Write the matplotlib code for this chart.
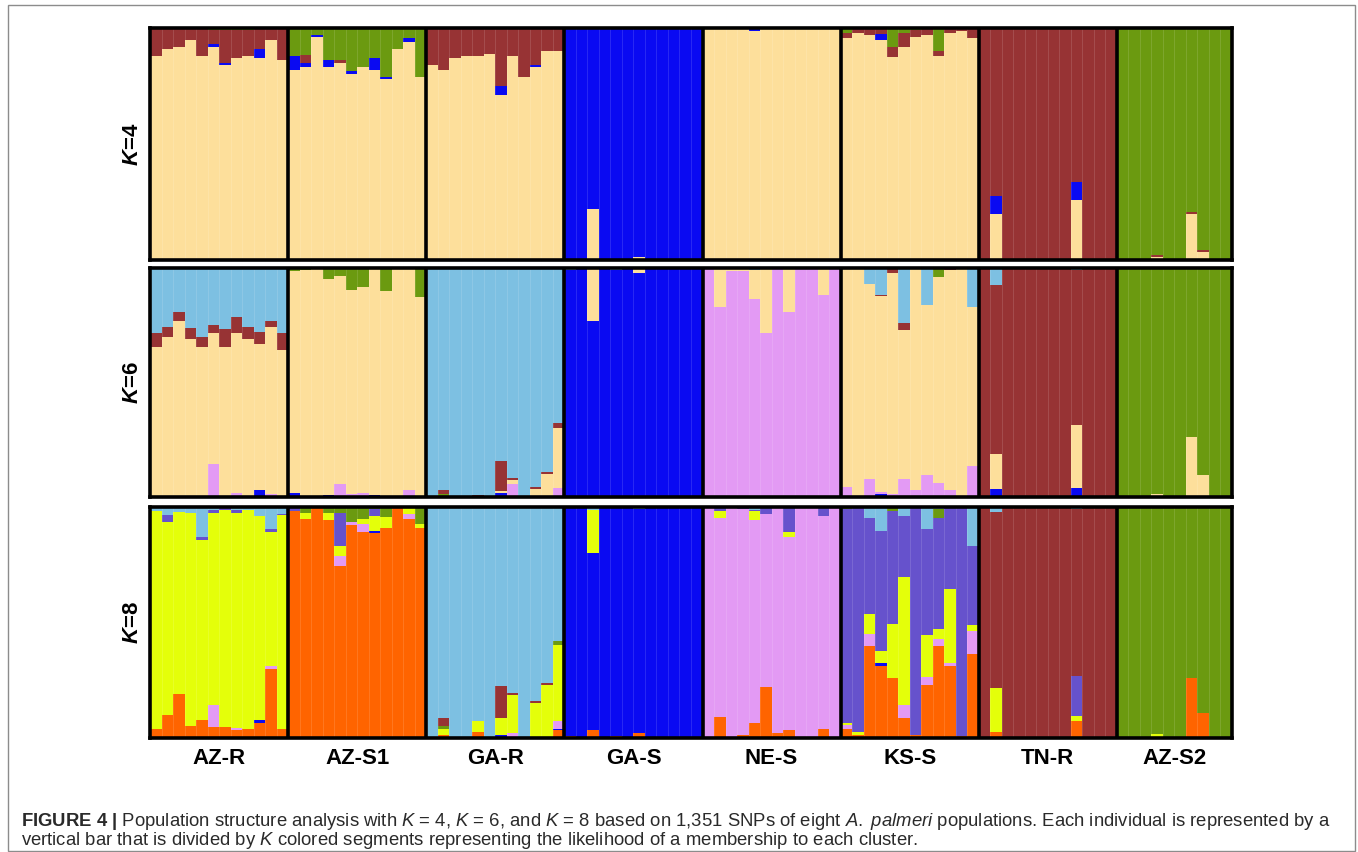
import matplotlib
matplotlib.use("Agg")
import matplotlib.pyplot as plt
import matplotlib.transforms as mtransforms
from matplotlib.patches import Rectangle
import numpy as np

plt.rcParams['font.family'] = ['Liberation Sans', 'DejaVu Sans']
plt.rcParams['mathtext.fontset'] = 'custom'
plt.rcParams['mathtext.rm'] = 'Liberation Sans'
plt.rcParams['mathtext.it'] = 'Liberation Sans:italic'
plt.rcParams['mathtext.bf'] = 'Liberation Sans:bold'
plt.rcParams['mathtext.sf'] = 'Liberation Sans:italic:bold'

# ---------------- data ----------------
populations = ["AZ-R", "AZ-S1", "GA-R", "GA-S", "NE-S", "KS-S", "TN-R", "AZ-S2"]
pop_sizes = [12, 12, 12, 12, 12, 12, 12, 10]
row_labels = ["4", "6", "8"]

cluster_colors = {
    "tan": "#FDDF9B", "brown": "#973334", "blue": "#0A0AF2", "green": "#6B9A10",
    "lblue": "#7DC0E2", "pink": "#E39AF4", "yellow": "#E4FF0A",
    "orange": "#FF6400", "purple": "#6652CC",
}

# ---- K = 4 (stack order bottom->top: tan, blue, brown, green)
k4_tan = [
    .88, .91, .92, .95, .88, .92, .84, .87, .88, .87, .95, .86,
    .82, .83, .96, .83, .85, .80, .83, .82, .78, .91, .94, .79,
    .84, .82, .87, .88, .88, .89, .71, .88, .79, .83, .90, .90,
    0, 0, .22, 0, .005, 0, .015, 0, 0, 0, 0, 0,
    1, 1, 1, 1, .985, 1, 1, 1, 1, 1, 1, 1,
    .955, .98, .97, .95, .877, .92, .96, .97, .88, .98, .985, .955,
    0, .20, 0, 0, 0, 0, 0, 0, .26, 0, .005, 0,
    0, 0, 0, .015, 0, 0, .20, .036, 0, 0]
k4_blue = [
    0, 0, 0, 0, 0, .01, .01, 0, 0, .04, 0, 0,
    .06, .02, .01, .03, 0, .015, 0, .05, .01, 0, .015, 0,
    0, 0, 0, 0, 0, 0, .04, 0, 0, .01, 0, 0,
    .995, 1, .78, 1, .99, 1, .985, 1, 1, 1, 1, 1,
    0, 0, 0, 0, .015, 0, 0, 0, 0, 0, 0, 0,
    0, 0, 0, .025, 0, 0, 0, 0, 0, 0, 0, 0,
    0, .076, 0, 0, 0, 0, 0, 0, .076, 0, 0, 0,
    0, 0, 0, 0, 0, 0, 0, 0, 0, 0]
k4_brown = [
    .12, .09, .08, .05, .12, .06, .14, .12, .11, .09, .05, .14,
    0, .035, 0, 0, .01, 0, 0, 0, 0, 0, 0, 0,
    .16, .18, .13, .12, .12, .11, .25, .12, .21, .16, .10, .10,
    .005, 0, 0, 0, .005, 0, 0, 0, 0, 0, 0, 0,
    0, 0, 0, 0, 0, 0, 0, 0, 0, 0, 0, 0,
    .025, .02, .03, .025, .043, .06, .03, .03, .02, .02, .015, .04,
    1, .724, 1, 1, 1, 1, 1, 1, .664, 1, .995, 1,
    0, 0, 0, .007, 0, 0, .005, .005, 0, 0]
k4_green = [
    0, 0, 0, 0, 0, .01, .01, .01, .01, 0, 0, 0,
    .12, .115, .03, .14, .14, .185, .17, .13, .21, .09, .045, .21,
    0, 0, 0, 0, 0, 0, 0, 0, 0, 0, 0, 0,
    0, 0, 0, 0, 0, 0, 0, 0, 0, 0, 0, 0,
    0, 0, 0, 0, 0, 0, 0, 0, 0, 0, 0, 0,
    .02, 0, 0, 0, .08, .02, .01, 0, .10, 0, 0, .005,
    0, 0, 0, 0, 0, 0, 0, 0, 0, 0, 0, 0,
    1, 1, 1, .978, 1, 1, .795, .959, 1, 1]

# ---- K = 6 (bottom->top: blue, pink, tan, green, brown, lblue)
k6_blue = [
    0, 0, 0, 0, 0, 0, 0, 0, 0, .03, 0, 0,
    .017, 0, 0, .007, 0, 0, 0, .008, 0, 0, 0, 0,
    0, 0, 0, 0, 0, 0, .019, 0, 0, 0, 0, 0,
    .992, 1, .767, 1, .99, 1, .98, 1, 1, 1, 1, 1,
    0, 0, 0, 0, .005, 0, 0, 0, 0, 0, 0, 0,
    0, 0, 0, .012, 0, 0, 0, 0, 0, 0, 0, 0,
    0, .034, 0, 0, 0, 0, 0, 0, .041, 0, 0, 0,
    0, 0, 0, 0, 0, 0, 0, 0, 0, 0]
k6_pink = [
    0, 0, 0, .005, 0, .146, 0, .017, 0, 0, .012, 0,
    0, 0, 0, 0, .055, .012, .017, 0, 0, 0, .03, 0,
    0, 0, 0, 0, 0, 0, 0, .055, 0, 0, 0, .04,
    0, 0, 0, 0, 0, 0, 0, 0, 0, 0, 0, 0,
    1, .83, .985, .985, .861, .717, 1, .81, 1, 1, .883, 1,
    .044, 0, .08, .01, .015, .08, .03, .095, .063, .03, 0, .135,
    0, 0, 0, 0, 0, 0, 0, 0, 0, 0, 0, 0,
    0, 0, 0, 0, 0, 0, 0, 0, 0, 0]
k6_tan = [
    .656, .70, .767, .685, .653, .568, .656, .697, .692, .64, .731, .641,
    .968, .99, 1, .945, .911, .892, .898, .992, .90, 1, .97, .875,
    0, 0, 0, 0, .006, 0, .007, .018, 0, .034, .10, .26,
    0, 0, .233, 0, 0, 0, .015, 0, 0, 0, 0, 0,
    0, .17, .015, .015, .124, .283, 0, .19, 0, 0, .117, 0,
    .956, 1, .85, .854, .963, .65, .97, .745, .896, .96, 1, .693,
    0, .153, 0, 0, 0, 0, 0, 0, .274, 0, 0, 0,
    0, 0, 0, .012, 0, 0, .26, .096, 0, 0]
k6_green = [
    0, 0, 0, 0, 0, 0, 0, 0, 0, 0, 0, 0,
    .015, .01, 0, .048, .034, .096, .085, 0, .10, 0, 0, .125,
    0, .015, 0, 0, 0, 0, 0, 0, 0, 0, 0, 0,
    0, 0, 0, 0, 0, 0, 0, 0, 0, 0, 0, 0,
    0, 0, 0, 0, 0, 0, 0, 0, 0, 0, 0, 0,
    0, 0, 0, 0, 0, 0, 0, 0, .036, 0, 0, 0,
    0, 0, 0, 0, 0, 0, 0, 0, 0, 0, 0, 0,
    1, 1, 1, .983, 1, 1, .74, .904, 1, 1]
k6_brown = [
    .058, .044, .039, .048, .044, .036, .077, .07, .052, .052, .026, .073,
    0, 0, 0, 0, 0, 0, 0, 0, 0, 0, 0, 0,
    0, .017, 0, 0, .004, 0, .13, .012, 0, .01, .01, .022,
    0, 0, 0, 0, 0, 0, 0, 0, 0, 0, 0, 0,
    0, 0, 0, 0, 0, 0, 0, 0, 0, 0, 0, 0,
    0, 0, 0, .006, .022, .03, 0, 0, 0, .01, 0, 0,
    1, .74, 1, 1, 1, 1, 1, 1, .678, 1, 1, 1,
    0, 0, 0, 0, 0, 0, 0, 0, 0, 0]
k6_lblue = [
    .286, .256, .194, .262, .303, .25, .267, .216, .256, .278, .231, .286,
    0, 0, 0, 0, 0, 0, 0, 0, 0, 0, 0, 0,
    1, .968, 1, 1, .99, 1, .844, .915, 1, .956, .89, .678,
    .008, 0, 0, 0, .01, 0, .005, 0, 0, 0, 0, 0,
    0, 0, 0, 0, .01, 0, 0, 0, 0, 0, 0, 0,
    0, 0, .07, .118, 0, .24, 0, .16, .005, 0, 0, .172,
    0, .073, 0, 0, 0, 0, 0, 0, .007, 0, 0, 0,
    0, 0, 0, .005, 0, 0, 0, 0, 0, 0]

# ---- K = 8 (bottom->top: orange, blue, pink, yellow, purple, green, brown, lblue)
k8_orange = [
    .037, .10, .19, .05, .078, .046, .049, .035, .04, .066, .30, .037,
    .982, .95, 1, .942, .745, .923, .891, .888, .911, 1, .95, .908,
    0, .013, 0, 0, .027, 0, 0, 0, 0, 0, 0, .035,
    .01, 0, .035, 0, .01, 0, .023, 0, 0, 0, 0, 0,
    0, .092, 0, .013, .066, .222, .023, .035, 0, 0, .037, 0,
    .037, .012, .40, .31, .26, .085, .012, .23, .40, .31, .01, .364,
    0, .025, 0, 0, 0, 0, 0, 0, .075, 0, 0, 0,
    0, 0, 0, 0, 0, 0, .26, .11, 0, 0]
k8_blue = [
    0, 0, 0, 0, 0, 0, 0, 0, 0, .012, 0, 0,
    0, 0, 0, 0, 0, 0, 0, .007, 0, 0, 0, 0,
    0, 0, 0, 0, 0, 0, .012, 0, 0, 0, 0, .005,
    .99, 1, .767, 1, .99, 1, .967, 1, 1, 1, 1, 1,
    0, 0, 0, 0, 0, 0, 0, 0, 0, 0, 0, 0,
    0, 0, 0, .014, 0, 0, 0, 0, 0, 0, 0, 0,
    0, 0, 0, 0, 0, 0, 0, 0, 0, 0, 0, 0,
    0, 0, 0, 0, 0, 0, 0, 0, 0, 0]
k8_pink = [
    0, 0, 0, 0, 0, .097, 0, .01, 0, 0, .01, 0,
    0, 0, 0, 0, .043, .014, .036, 0, 0, 0, .02, 0,
    0, 0, 0, 0, 0, 0, 0, .023, 0, 0, 0, .032,
    0, 0, 0, 0, 0, 0, 0, 0, 0, 0, 0, 0,
    1, .861, 1, .977, .879, .748, .977, .837, 1, 1, .923, 1,
    .019, 0, .05, 0, 0, .058, 0, .036, .03, .015, 0, .10,
    0, 0, 0, 0, 0, 0, 0, 0, 0, 0, 0, 0,
    0, 0, 0, 0, 0, 0, 0, 0, 0, 0]
k8_yellow = [
    .946, .836, .79, .925, .778, .829, .936, .927, .945, .882, .581, .928,
    0, .025, 0, .033, .043, 0, .02, .065, .046, 0, .03, .017,
    0, .025, 0, 0, .048, 0, .075, .163, 0, .153, .23, .33,
    0, 0, .183, 0, 0, 0, 0, 0, 0, 0, 0, 0,
    0, .03, 0, 0, .037, 0, 0, .02, 0, 0, 0, 0,
    .01, .012, .087, .053, .235, .555, 0, .18, .043, .32, 0, .025,
    0, .19, 0, 0, 0, 0, 0, 0, .022, 0, 0, 0,
    0, 0, 0, .017, 0, 0, 0, 0, 0, 0]
k8_purple = [
    0, .029, 0, 0, .014, .014, .01, .014, 0, 0, .012, .005,
    .018, 0, 0, 0, .144, 0, 0, .03, 0, 0, 0, 0,
    0, 0, 0, 0, 0, 0, 0, 0, 0, 0, 0, 0,
    0, 0, 0, 0, 0, 0, 0, 0, 0, 0, 0, 0,
    0, .017, 0, .01, .006, .03, 0, .108, 0, 0, .04, 0,
    .924, .976, .417, .519, .488, .262, .988, .457, .481, .355, .99, .341,
    0, 0, 0, 0, 0, 0, 0, 0, .173, 0, 0, 0,
    0, 0, 0, 0, 0, 0, 0, 0, 0, 0]
k8_green = [
    0, 0, 0, 0, 0, 0, 0, 0, 0, 0, 0, 0,
    0, .025, 0, .025, .025, .063, .053, .01, .043, 0, 0, .075,
    0, .014, 0, 0, 0, 0, 0, 0, 0, 0, 0, .019,
    0, 0, 0, 0, 0, 0, 0, 0, 0, 0, 0, 0,
    0, 0, 0, 0, 0, 0, 0, 0, 0, 0, 0, 0,
    .01, 0, 0, 0, .017, 0, 0, 0, .036, 0, 0, 0,
    0, 0, 0, 0, 0, 0, 0, 0, 0, 0, 0, 0,
    1, 1, 1, .977, 1, 1, .74, .89, 1, 1]
k8_brown = [
    0, 0, 0, 0, 0, 0, .005, 0, 0, 0, 0, 0,
    0, 0, 0, 0, 0, 0, 0, 0, 0, 0, 0, 0,
    0, .033, 0, 0, 0, 0, .137, .01, 0, .007, .007, 0,
    0, 0, 0, 0, 0, 0, 0, 0, 0, 0, 0, 0,
    0, 0, 0, 0, 0, 0, 0, 0, 0, 0, 0, 0,
    0, 0, 0, 0, 0, 0, 0, 0, 0, 0, 0, 0,
    1, .762, 1, 1, 1, 1, 1, 1, .72, 1, 1, 1,
    0, 0, 0, 0, 0, 0, 0, 0, 0, 0]
k8_lblue = [
    .017, .035, .02, .025, .13, .014, 0, .014, .015, .04, .097, .03,
    0, 0, 0, 0, 0, 0, 0, 0, 0, 0, 0, 0,
    1, .915, 1, 1, .925, 1, .776, .804, 1, .84, .763, .579,
    0, 0, .015, 0, 0, 0, .01, 0, 0, 0, 0, 0,
    0, 0, 0, 0, .012, 0, 0, 0, 0, 0, 0, 0,
    0, 0, .046, .104, 0, .04, 0, .097, .01, 0, 0, .17,
    0, .023, 0, 0, 0, 0, 0, 0, .01, 0, 0, 0,
    0, 0, 0, .006, 0, 0, 0, 0, 0, 0]

rows = [
    [("tan", k4_tan), ("blue", k4_blue), ("brown", k4_brown), ("green", k4_green)],
    [("blue", k6_blue), ("pink", k6_pink), ("tan", k6_tan), ("green", k6_green),
     ("brown", k6_brown), ("lblue", k6_lblue)],
    [("orange", k8_orange), ("blue", k8_blue), ("pink", k8_pink), ("yellow", k8_yellow),
     ("purple", k8_purple), ("green", k8_green), ("brown", k8_brown), ("lblue", k8_lblue)],
]

# ---------------- figure ----------------
W, H = 1358, 852
fig = plt.figure(figsize=(W / 100, H / 100), dpi=100)

# outer grey frame
fig.patches.append(Rectangle((8 / W, 1 - 851 / H), (1355 - 8) / W, (851 - 5) / H,
                             transform=fig.transFigure, fill=False,
                             edgecolor="#8c8c8c", linewidth=1.0))

n_ind = sum(pop_sizes)
bounds = np.concatenate([[0], np.cumsum(pop_sizes)])
x = np.arange(n_ind)

row_pix = [(28, 260), (268, 497), (507, 738)]
left_px, right_px = 150, 1232

axes = []
for r, (top, bot) in enumerate(row_pix):
    ax = fig.add_axes([left_px / W, 1 - bot / H, (right_px - left_px) / W, (bot - top) / H])
    axes.append(ax)
    comps = rows[r]
    mat = np.array([c[1] for c in comps], dtype=float)
    mat = mat / mat.sum(axis=0, keepdims=True)
    bottom = np.zeros(n_ind)
    for (name, _), vals in zip(comps, mat):
        ax.bar(x, vals, width=1.0, bottom=bottom, align="edge",
               color=cluster_colors[name], linewidth=0)
        bottom += vals
    # faint separators between individuals
    for xi in range(1, n_ind):
        ax.axvline(xi, color="white", alpha=0.13, linewidth=0.7, zorder=3)
    for b in bounds[1:-1]:
        ax.axvline(b, color="black", linewidth=2.6, zorder=5)
    ax.set_xlim(0, n_ind)
    ax.set_ylim(0, 1)
    ax.set_xticks([])
    ax.set_yticks([])
    for s in ax.spines.values():
        s.set_linewidth(2.6)
        s.set_color("black")
        s.set_zorder(6)
    fig.text(133 / W, 1 - ((top + bot) / 2) / H, r"$\mathsf{K}$=" + row_labels[r],
             rotation=90, ha="center", va="center", fontsize=16, fontweight="bold")

# population labels
trans = mtransforms.blended_transform_factory(axes[2].transData, fig.transFigure)
for i, name in enumerate(populations):
    cx = (bounds[i] + bounds[i + 1]) / 2
    axes[2].text(cx, 1 - 759 / H, name, transform=trans, ha="center", va="center",
                 fontsize=16, fontweight="bold")

# caption
line1 = (r"$\mathbf{FIGURE\ 4\ |}$ Population structure analysis with $K$ = 4, $K$ = 6, and "
         r"$K$ = 8 based on 1,351 SNPs of eight $A.$ $palmeri$ populations. Each individual is represented by a")
line2 = (r"vertical bar that is divided by $K$ colored segments representing the likelihood "
         r"of a membership to each cluster.")
fig.text(21 / W, 1 - 826 / H, line1, ha="left", va="baseline", fontsize=13.3, color="#2a2a2a")
fig.text(21 / W, 1 - 845 / H, line2, ha="left", va="baseline", fontsize=13.3, color="#2a2a2a")

fig.savefig("out.png", dpi=100)
